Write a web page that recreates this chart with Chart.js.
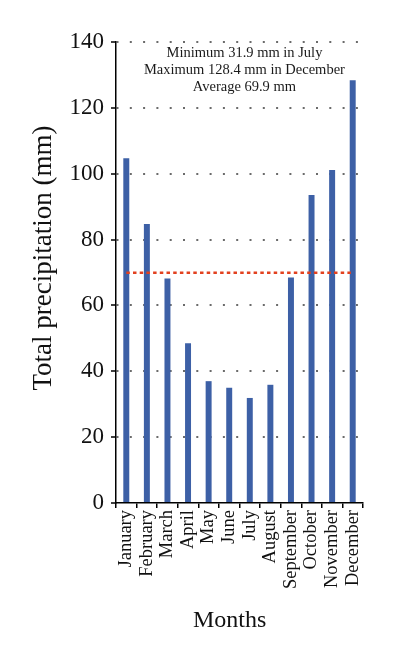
<!DOCTYPE html>
<html>
<head>
<meta charset="utf-8">
<script src="https://cdn.jsdelivr.net/npm/chart.js@4.4.1/dist/chart.umd.min.js"></script>
<style>
  html, body { margin: 0; padding: 0; background: #fff; }
  #wrap { width: 395px; height: 660px; }
</style>
</head>
<body>
<div id="wrap"><canvas id="rain"></canvas></div>
<script>
// monthly totals
let months = ['January', 'February', 'March', 'April', 'May', 'June',
    'July', 'August', 'September', 'October', 'November', 'December'];
let precip = [104.7, 84.7, 68.2, 48.5, 37.0, 35.0, 31.9, 35.9, 68.5, 93.5, 101.1, 128.4];
let average = 69.9;
let yTicks = [0, 20, 40, 60, 80, 100, 120, 140];
let notes = [
    'Minimum 31.9 mm in July',
    'Maximum 128.4 mm in December',
    'Average 69.9 mm'
];
let xTitle = 'Months';
let yTitle = 'Total precipitation (mm)';

let serif = "'Liberation Serif', 'DejaVu Serif', serif";

// text box in the top of the plot + both axis titles
let notePlugin = {
    id: 'notes',
    afterDraw(chart) {
        let ctx = chart.ctx;
        let area = chart.chartArea;
        ctx.save();
        ctx.font = '14.5px ' + serif;
        ctx.fillStyle = '#1a1a1a';
        ctx.textAlign = 'center';
        ctx.textBaseline = 'middle';
        let cx = area.left + (area.right - area.left) * 0.52;
        for (let i = 0; i < notes.length; i++) {
            ctx.fillText(notes[i], cx, area.top + 11.5 + i * 16.6);
        }
        ctx.font = '24px ' + serif;
        ctx.fillStyle = '#111';
        ctx.fillText(xTitle, area.left + (area.right - area.left) * 0.46, 621);

        ctx.translate(44, 258);
        ctx.rotate(-Math.PI / 2);
        ctx.font = '27px ' + serif;
        ctx.fillText(yTitle, 0, 0);
        ctx.restore();
    }
};

var c = document.getElementById('rain').getContext('2d');
var chart = new Chart(c, {
    type: 'bar',
    data: {
        labels: months,
        datasets: [{
            type: 'line',
            label: 'Average',
            data: months.map(() => average),
            borderColor: '#e2411f',
            borderWidth: 2.5,
            borderDash: [3.5, 3.2],
            pointRadius: 0,
            fill: false,
            order: 0
        }, {
            label: 'Total precipitation',
            data: precip,
            backgroundColor: '#3d60a6',
            borderWidth: 0,
            barPercentage: 0.29,
            categoryPercentage: 1,
            order: 1
        }]
    },
    options: {
        responsive: true,
        maintainAspectRatio: false,
        animation: false,
        layout: {
            padding: { left: 23, right: 32, top: 42, bottom: 20 }
        },
        plugins: {
            legend: { display: false },
            tooltip: { enabled: false }
        },
        scales: {
            x: {
                offset: true,
                grid: {
                    offset: true,
                    drawOnChartArea: false,
                    drawTicks: true,
                    tickLength: 5,
                    color: '#000',
                    lineWidth: 1.5
                },
                border: { display: true, color: '#000', width: 1.5 },
                ticks: {
                    minRotation: 90,
                    maxRotation: 90,
                    autoSkip: false,
                    padding: 2,
                    color: '#111',
                    font: { family: serif, size: 18.5 }
                },
                afterFit(scale) {
                    scale.height = 660 - 20 - 503;
                }
            },
            y: {
                min: 0,
                max: 140,
                afterBuildTicks(scale) {
                    scale.ticks = yTicks.map(v => ({ value: v }));
                },
                grid: {
                    color: (ctx) => ctx.tick && ctx.tick.value === 0 ? 'transparent' : '#6b6b6b',
                    lineWidth: 2,
                    drawTicks: true,
                    tickLength: 5,
                    tickColor: '#000',
                    tickWidth: 1.5
                },
                border: { display: true, color: '#000', width: 1.5, dash: [2, 11.3] },
                ticks: {
                    padding: 7,
                    color: '#111',
                    font: { family: serif, size: 23 }
                },
                afterFit(scale) {
                    scale.width = 116 - 23;
                }
            }
        }
    },
    plugins: [notePlugin]
});
</script>
</body>
</html>
